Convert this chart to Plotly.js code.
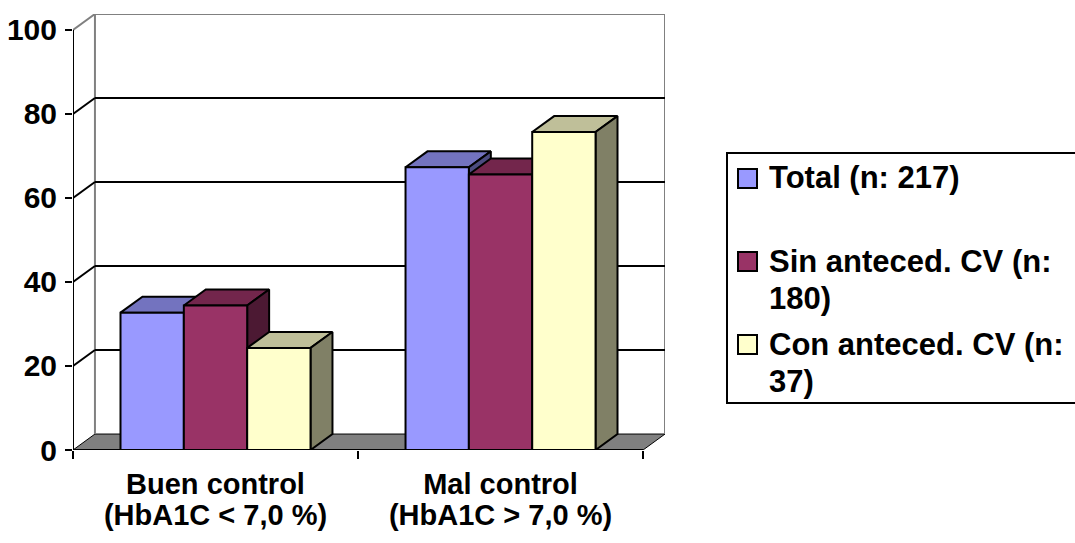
<!DOCTYPE html>
<html>
<head>
<meta charset="utf-8">
<script src="https://cdn.plot.ly/plotly-3.0.1.min.js"></script>
<style>
  html, body { margin: 0; padding: 0; background: #ffffff; }
  #chart { width: 1075px; height: 543px; }
</style>
</head>
<body>
<div id="chart"></div>
<script>
// ---- Data ----
const categories = ['Buen control', 'Mal control'];
const categoryDetail = ['(HbA1C &lt; 7,0 %)', '(HbA1C &gt; 7,0 %)'];
const seriesNames = ['Total (n: 217)', 'Sin anteced. CV (n: 180)', 'Con anteced. CV (n: 37)'];
const legendLines = [['Total (n: 217)'], ['Sin anteced. CV (n:', '180)'], ['Con anteced. CV (n:', '37)']];
const totalPct = [32.7, 67.3];
const sinCVPct = [34.4, 65.6];
const conCVPct = [24.3, 75.7];
const yTicks = [0, 20, 40, 60, 80, 100];

// ---- Styling ----
const frontColors = ['#9999FF', '#993366', '#FFFFCC'];
const topColors   = ['#7373BF', '#73264C', '#BFBF99'];
const sideColors  = ['#4C4C80', '#4C1933', '#808066'];
const FONT = 'Liberation Sans, Arial, sans-serif';

const W = 1075, H = 543;
const M = { l: 73, r: 410, t: 14, b: 93 };
const plotW = W - M.l - M.r, plotH = H - M.t - M.b;

// 3-D depth of the box, in axis units
const DX = 0.077, DY = 3.8;
const X0 = -0.5, X1 = categories.length - 0.5;
const YMAX = 100;
const BW = (1 - 1 / 3) / 3;   // width of one bar inside a category

const series = [totalPct, sinCVPct, conCVPct];
const xs = categories.map((_, i) => i);

function barLeft(s, c) { return c - 1 / 3 + s * BW; }

// polygons for the top and side faces of each bar
function facePolys(s, kind) {
  const px = [], py = [];
  series[s].forEach((v, c) => {
    const l = barLeft(s, c), r = l + BW;
    let pts;
    if (kind === 'top') {
      pts = [[l, v], [r, v], [r + DX, v + DY], [l + DX, v + DY], [l, v]];
    } else {
      pts = [[r, 0], [r + DX, DY], [r + DX, v + DY], [r, v], [r, 0]];
    }
    if (px.length) { px.push(null); py.push(null); }
    pts.forEach(p => { px.push(p[0]); py.push(p[1]); });
  });
  return { x: px, y: py };
}

const traces = [];
// tops and sides, painted left to right
for (let s = 0; s < series.length; s++) {
  ['top', 'side'].forEach(kind => {
    const p = facePolys(s, kind);
    traces.push({
      type: 'scatter', mode: 'lines', x: p.x, y: p.y,
      xaxis: 'x', yaxis: 'y',
      fill: 'toself',
      fillcolor: kind === 'top' ? topColors[s] : sideColors[s],
      line: { color: '#000000', width: 2 },
      hoverinfo: 'skip', showlegend: false
    });
  });
}
// front faces as bars on the overlaid subplot (drawn above the depth faces)
for (let s = 0; s < series.length; s++) {
  traces.push({
    type: 'bar', name: seriesNames[s],
    x: xs, y: series[s],
    xaxis: 'x2', yaxis: 'y2',
    width: BW, offset: -1 / 3 + s * BW,
    marker: { color: frontColors[s], line: { color: '#000000', width: 2 } },
    showlegend: false
  });
}

// ---- Box frame: back wall, floor, grid ----
const shapes = [];
function line(x0, y0, x1, y1, color, width) {
  shapes.push({ type: 'line', xref: 'x', yref: 'y', x0, y0, x1, y1,
    line: { color, width }, layer: 'below' });
}
// floor
shapes.push({
  type: 'path', xref: 'x', yref: 'y', layer: 'below',
  path: `M ${X0},0 L ${X1},0 L ${X1 + DX},${DY} L ${X0 + DX},${DY} Z`,
  fillcolor: '#808080', line: { color: '#000000', width: 1 }
});
// back wall outline
line(X0 + DX, DY, X0 + DX, YMAX + DY, '#808080', 2);
line(X0 + DX, YMAX + DY, X1 + DX, YMAX + DY, '#808080', 2);
line(X1 + DX, DY, X1 + DX, YMAX + DY, '#808080', 2);
line(X0, YMAX, X0 + DX, YMAX + DY, '#808080', 2);
// gridlines on back and side walls
yTicks.filter(v => v > 0 && v < YMAX).forEach(v => {
  line(X0 + DX, v + DY, X1 + DX, v + DY, '#000000', 2);
  line(X0, v, X0 + DX, v + DY, '#000000', 2);
});
// front axis lines
line(X0, 0, X0, YMAX, '#000000', 2);
line(X0, 0, X1, 0, '#000000', 2);

// ---- Legend ----
function pX(px) { return (px - M.l) / plotW; }
function pY(py) { return (H - M.b - py) / plotH; }
const annotations = [];
shapes.push({ type: 'rect', xref: 'paper', yref: 'paper',
  x0: pX(727), x1: pX(1100), y0: pY(403), y1: pY(153),
  line: { color: '#000000', width: 2 }, fillcolor: 'rgba(0,0,0,0)' });
const swatchTop = [169, 252, 335];
const lineCenters = [[178], [261.5, 298], [344, 381.5]];
legendLines.forEach((lines, s) => {
  shapes.push({ type: 'rect', xref: 'paper', yref: 'paper',
    x0: pX(738), x1: pX(757), y0: pY(swatchTop[s] + 19), y1: pY(swatchTop[s]),
    fillcolor: frontColors[s], line: { color: '#000000', width: 2 } });
  lines.forEach((t, k) => {
    annotations.push({ xref: 'paper', yref: 'paper', x: pX(767), y: pY(lineCenters[s][k]),
      xanchor: 'left', yanchor: 'middle', showarrow: false, text: t,
      font: { family: FONT, size: 31, weight: 'bold', color: '#000000' } });
  });
});

const catFont = { family: FONT, size: 29, weight: 'bold', color: '#000000' };
const layout = {
  width: W, height: H,
  margin: { l: M.l, r: M.r, t: M.t, b: M.b, pad: 0, autoexpand: false },
  paper_bgcolor: '#ffffff', plot_bgcolor: 'rgba(0,0,0,0)',
  showlegend: false,
  barmode: 'overlay',
  xaxis: {
    range: [X0, X1 + DX], fixedrange: true,
    tickmode: 'array', tickvals: xs, ticktext: categories,
    ticks: '', showgrid: false, zeroline: false, showline: false,
    tickfont: catFont, ticklabelstandoff: 14,
    minor: { tickmode: 'array', tickvals: [X0, 0.5, X1], ticks: 'outside',
      ticklen: 8, tickwidth: 2, tickcolor: '#000000', showgrid: false }
  },
  xaxis2: {
    overlaying: 'x', anchor: 'y2', side: 'bottom',
    range: [X0, X1 + DX], fixedrange: true,
    tickmode: 'array', tickvals: xs, ticktext: categoryDetail,
    ticks: '', showgrid: false, zeroline: false, showline: false,
    tickfont: catFont, ticklabelstandoff: 45
  },
  yaxis: {
    range: [0, YMAX + DY], fixedrange: true,
    tickmode: 'array', tickvals: yTicks, ticktext: yTicks.map(String),
    ticks: 'outside', ticklen: 7, tickwidth: 2, tickcolor: '#000000',
    showgrid: false, zeroline: false, showline: false,
    tickfont: { family: FONT, size: 30, weight: 'bold', color: '#000000' },
    ticklabelstandoff: 2
  },
  yaxis2: {
    overlaying: 'y', anchor: 'x2', range: [0, YMAX + DY], fixedrange: true,
    visible: false
  },
  shapes, annotations
};

Plotly.newPlot('chart', traces, layout, { staticPlot: true, displayModeBar: false });
</script>
</body>
</html>
